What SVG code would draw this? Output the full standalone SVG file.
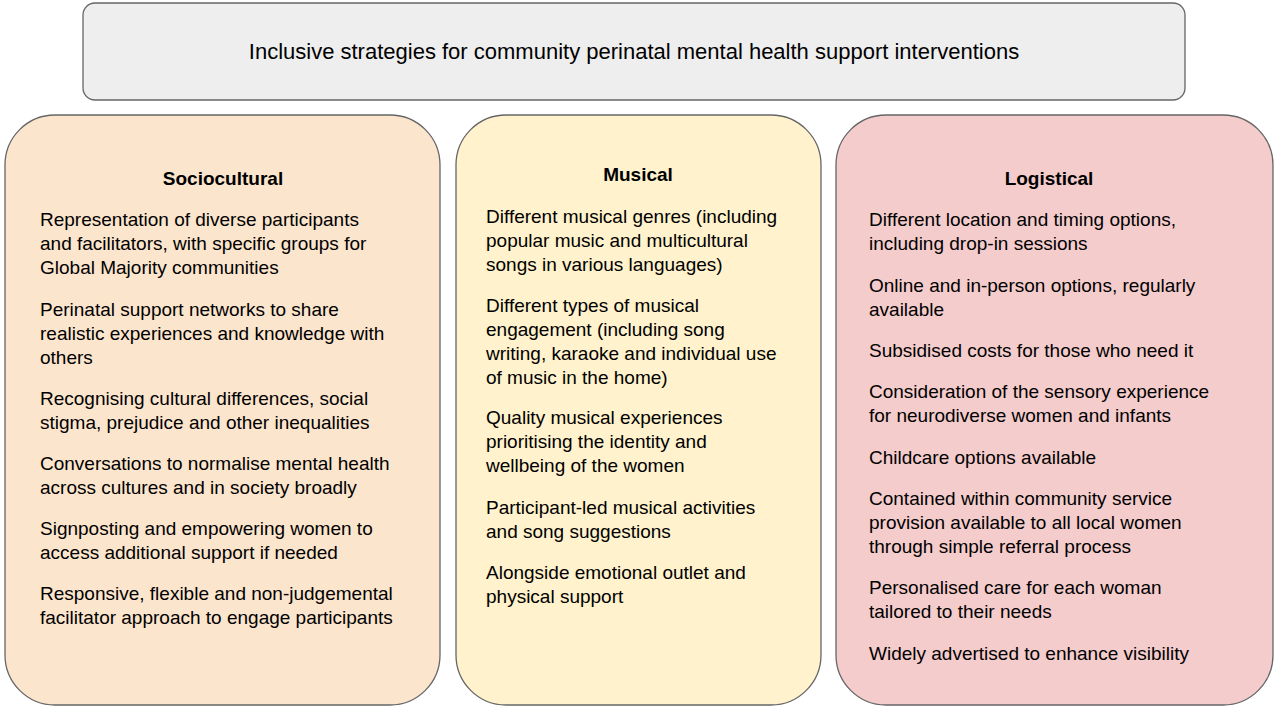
<svg xmlns="http://www.w3.org/2000/svg" width="1280" height="711" viewBox="0 0 1280 711">
<style>
.box{stroke:#666;stroke-width:1.3}
text{font-family:Arial,"Liberation Sans",sans-serif;font-size:19px;fill:#000}
.h{font-weight:bold;text-anchor:middle}
.t{font-size:22px;text-anchor:middle}
</style>
<rect width="1280" height="711" fill="#fff"/>
<g id="title"><rect class="box" x="83" y="3" width="1102" height="97" rx="12" fill="#eeeeee"/>
<text class="t" x="634" y="59">Inclusive strategies for community perinatal mental health support interventions</text></g>
<g id="sociocultural"><rect class="box" x="5" y="115" width="435" height="590" rx="50" fill="#fce5cd"/>
<text class="h" x="223" y="185">Sociocultural</text>
<text x="40" y="226">Representation of diverse participants</text>
<text x="40" y="250">and facilitators, with specific groups for</text>
<text x="40" y="274">Global Majority communities</text>
<text x="40" y="316">Perinatal support networks to share</text>
<text x="40" y="340">realistic experiences and knowledge with</text>
<text x="40" y="364">others</text>
<text x="40" y="405">Recognising cultural differences, social</text>
<text x="40" y="429">stigma, prejudice and other inequalities</text>
<text x="40" y="470">Conversations to normalise mental health</text>
<text x="40" y="494">across cultures and in society broadly</text>
<text x="40" y="535">Signposting and empowering women to</text>
<text x="40" y="559">access additional support if needed</text>
<text x="40" y="600">Responsive, flexible and non-judgemental</text>
<text x="40" y="624">facilitator approach to engage participants</text></g>
<g id="musical"><rect class="box" x="456" y="115" width="365" height="590" rx="50" fill="#fff2cc"/>
<text class="h" x="638" y="181">Musical</text>
<text x="486" y="223">Different musical genres (including</text>
<text x="486" y="247">popular music and multicultural</text>
<text x="486" y="271">songs in various languages)</text>
<text x="486" y="312">Different types of musical</text>
<text x="486" y="336">engagement (including song</text>
<text x="486" y="360">writing, karaoke and individual use</text>
<text x="486" y="384">of music in the home)</text>
<text x="486" y="424">Quality musical experiences</text>
<text x="486" y="448">prioritising the identity and</text>
<text x="486" y="472">wellbeing of the women</text>
<text x="486" y="514">Participant-led musical activities</text>
<text x="486" y="538">and song suggestions</text>
<text x="486" y="579">Alongside emotional outlet and</text>
<text x="486" y="603">physical support</text></g>
<g id="logistical"><rect class="box" x="836" y="115" width="437" height="590" rx="50" fill="#f4cccc"/>
<text class="h" x="1049" y="185">Logistical</text>
<text x="869" y="226">Different location and timing options,</text>
<text x="869" y="250">including drop-in sessions</text>
<text x="869" y="292">Online and in-person options, regularly</text>
<text x="869" y="316">available</text>
<text x="869" y="357">Subsidised costs for those who need it</text>
<text x="869" y="398">Consideration of the sensory experience</text>
<text x="869" y="422">for neurodiverse women and infants</text>
<text x="869" y="464">Childcare options available</text>
<text x="869" y="505">Contained within community service</text>
<text x="869" y="529">provision available to all local women</text>
<text x="869" y="553">through simple referral process</text>
<text x="869" y="594">Personalised care for each woman</text>
<text x="869" y="618">tailored to their needs</text>
<text x="869" y="660">Widely advertised to enhance visibility</text></g>
<g id="connectors"></g>
</svg>
